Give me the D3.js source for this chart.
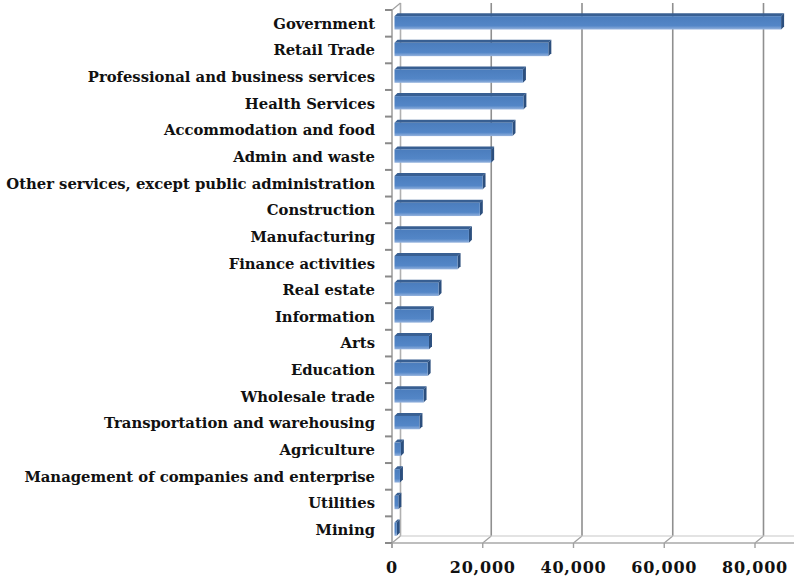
<!DOCTYPE html>
<html>
<head>
<meta charset="utf-8">
<script src="https://cdn.jsdelivr.net/npm/d3@7/dist/d3.min.js"></script>
<style>
  html, body { margin: 0; padding: 0; background: #fff; }
  svg { display: block; }
  .lbl { font-family: "DejaVu Serif", serif; font-weight: bold; fill: #111; }
</style>
</head>
<body>
<svg id="chart" width="794" height="580"></svg>
<script>
// Employment by industry (jobs)
const categories = [
  "Government", "Retail Trade", "Professional and business services", "Health Services",
  "Accommodation and food", "Admin and waste", "Other services, except public administration",
  "Construction", "Manufacturing", "Finance activities", "Real estate", "Information", "Arts",
  "Education", "Wholesale trade", "Transportation and warehousing", "Agriculture",
  "Management of companies and enterprise", "Utilities", "Mining"
];
const values = [
  85200, 33900, 28300, 28400, 26000, 21300, 19400, 18800, 16400, 13900,
  9700, 8000, 7600, 7300, 6400, 5500, 1400, 1200, 850, 500
];
const tickValues = [0, 20000, 40000, 60000, 80000];

const svg = d3.select("#chart");

// Front plane of the plot box and the depth offset of the back wall
const front = { left: 392, top: 10, bottom: 543 };
const depth = { dx: 8.5, dy: -7 };
const barDepth = { dx: 3, dy: -3 };     // thickness of each bar box
const barShift = { dx: 2.5, dy: -2 };   // bars sit slightly behind the front plane

const x = d3.scaleLinear().domain([0, 100000]).range([front.left, front.left + 453.75]);
const y = d3.scaleBand().domain(categories).range([front.top, front.bottom]).paddingInner(0).paddingOuter(0);

const gridColor = "#8f8f8f";

// Back wall gridlines plus floor connectors
const grid = svg.append("g");
tickValues.forEach(v => {
  const xb = x(v) + depth.dx;
  grid.append("line")
    .attr("x1", xb).attr("x2", xb)
    .attr("y1", front.top + depth.dy).attr("y2", front.bottom + depth.dy)
    .attr("stroke", v === 0 ? "#b0b0b0" : gridColor).attr("stroke-width", 1.6);
  grid.append("line")
    .attr("x1", xb).attr("y1", front.bottom + depth.dy)
    .attr("x2", x(v)).attr("y2", front.bottom)
    .attr("stroke", "#a0a0a0").attr("stroke-width", 1.2);
});

// Floor edges
grid.append("line")
  .attr("x1", front.left + depth.dx).attr("x2", 794)
  .attr("y1", front.bottom + depth.dy).attr("y2", front.bottom + depth.dy)
  .attr("stroke", "#c8c8c8").attr("stroke-width", 1.2);
grid.append("line")
  .attr("x1", front.left).attr("x2", 794)
  .attr("y1", front.bottom).attr("y2", front.bottom)
  .attr("stroke", "#a8a8a8").attr("stroke-width", 1.4);

// Left wall: front vertical and top connector
grid.append("line")
  .attr("x1", front.left).attr("x2", front.left)
  .attr("y1", front.top).attr("y2", front.bottom + 5)
  .attr("stroke", "#a0a0a0").attr("stroke-width", 1.6);
grid.append("line")
  .attr("x1", front.left).attr("y1", front.top)
  .attr("x2", front.left + depth.dx).attr("y2", front.top + depth.dy)
  .attr("stroke", "#a0a0a0").attr("stroke-width", 1.2);

// Category tick marks on the left wall (band boundaries)
const bounds = categories.map(c => y(c)).concat([front.bottom]);
svg.append("g").selectAll("line").data(bounds).join("line")
  .attr("x1", front.left - 7).attr("x2", front.left)
  .attr("y1", d => d).attr("y2", d => d)
  .attr("stroke", "#8a8a8a").attr("stroke-width", 2);

// Value tick marks under the front floor edge
svg.append("g").selectAll("line").data(tickValues).join("line")
  .attr("x1", d => x(d)).attr("x2", d => x(d))
  .attr("y1", front.bottom).attr("y2", front.bottom + 5)
  .attr("stroke", "#a0a0a0").attr("stroke-width", 1.4);

// Gradient for the front face of each bar
const defs = svg.append("defs");
const grad = defs.append("linearGradient").attr("id", "barFront")
  .attr("x1", 0).attr("y1", 0).attr("x2", 0).attr("y2", 1);
grad.append("stop").attr("offset", "0%").attr("stop-color", "#4b7dbd");
grad.append("stop").attr("offset", "72%").attr("stop-color", "#5386c7");
grad.append("stop").attr("offset", "100%").attr("stop-color", "#94b2dd");

// 3D bars
const barH = y.bandwidth() * 0.5;
const bars = svg.append("g").selectAll("g").data(categories.map((c, i) => ({ c, v: values[i] }))).join("g");
bars.each(function(d) {
  const g = d3.select(this);
  const x0 = x(0) + barShift.dx, x1 = x(d.v) + barShift.dx;
  const yt = y(d.c) + y.bandwidth() / 2 - barH / 2 + barShift.dy + 1.5;
  const yb = yt + barH;
  const bx = barDepth.dx, by = barDepth.dy;
  // top face
  g.append("path")
    .attr("d", `M${x0},${yt} L${x0 + bx},${yt + by} L${x1 + bx},${yt + by} L${x1},${yt} Z`)
    .attr("fill", "#385f92");
  // right side face
  g.append("path")
    .attr("d", `M${x1},${yt} L${x1 + bx},${yt + by} L${x1 + bx},${yb + by} L${x1},${yb} Z`)
    .attr("fill", "#2c4f7e");
  // front face
  g.append("rect")
    .attr("x", x0).attr("y", yt)
    .attr("width", Math.max(0, x1 - x0)).attr("height", barH)
    .attr("fill", "url(#barFront)");
});

// Category labels
svg.append("g").selectAll("text").data(categories).join("text")
  .attr("class", "lbl")
  .attr("x", 375)
  .attr("y", d => y(d) + y.bandwidth() / 2)
  .attr("dy", "0.36em")
  .attr("text-anchor", "end")
  .attr("font-size", 14.8)
  .text(d => d);

// Value axis labels
const fmt = d3.format(",");
svg.append("g").selectAll("text").data(tickValues).join("text")
  .attr("class", "lbl")
  .attr("x", d => x(d))
  .attr("y", 573)
  .attr("text-anchor", "middle")
  .attr("font-size", 16)
  .attr("letter-spacing", 0.8)
  .text(d => fmt(d));
</script>
</body>
</html>
